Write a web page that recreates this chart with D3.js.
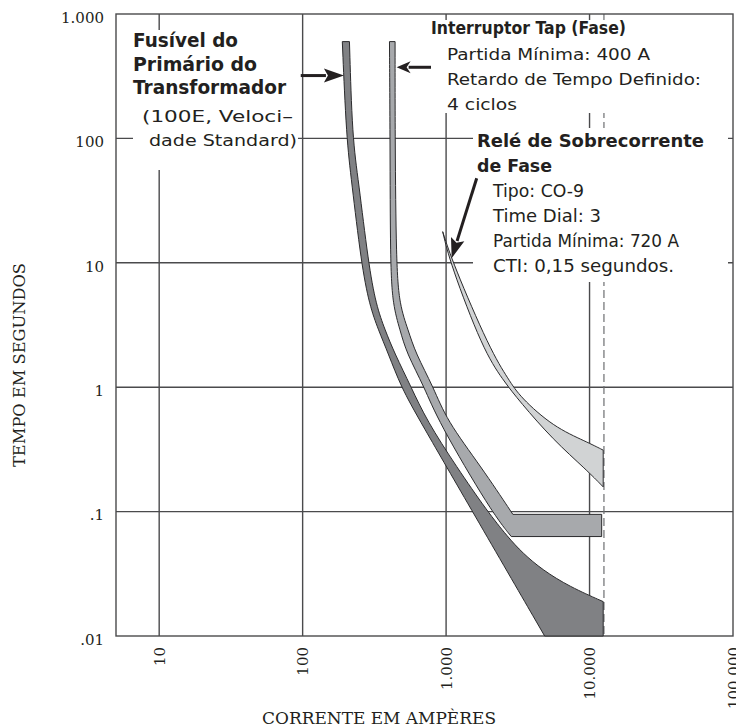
<!DOCTYPE html>
<html>
<head>
<meta charset="utf-8">
<script src="https://cdn.jsdelivr.net/npm/d3@7"></script>
<style>
  body { margin: 0; background: #fff; }
</style>
</head>
<body>
<script>
// axis ticks
var xTicks = [10, 100, 1000, 10000, 100000];
var xTickLabels = ["10", "100", "1.000", "10.000", "100.000"];
var yTicks = [0.01, 0.1, 1, 10, 100, 1000];
var yTickLabels = [".01", ".1", "1", "10", "100", "1.000"];

// curves, [corrente A, tempo s]
var fuseMinMelt = [[189, 600], [202, 100], [219, 46], [256, 10], [292, 4.57], [338, 2.87], [394, 1.88],
  [486, 1], [652, 0.544], [1529, 0.1], [4864, 0.01]];
var fuseTotalClear = [[212, 600], [222, 100], [245, 46], [287, 10], [325, 4.57], [376, 2.87], [437, 1.88],
  [571, 1], [730, 0.544], [1182, 0.229], [1945, 0.1], [2683, 0.0628], [3414, 0.0464], [4707, 0.0339],
  [7263, 0.0249], [12450, 0.0189]];
var fuseBottom = [[4864, 0.01], [12450, 0.01], [12450, 0.0189]];

var tapMin = [[403, 600], [407, 100], [408, 10], [425, 4.57], [478, 2.87], [530, 1.88], [707, 1],
  [871, 0.544], [2064, 0.1], [2847, 0.063]];
var tapMax = [[441, 600], [441, 100], [449, 10], [473, 4.57], [545, 2.87], [612, 1.88], [817, 1],
  [1006, 0.544], [1757, 0.229], [2921, 0.095]];
var tapDelay = [[2847, 0.063], [12150, 0.063], [12150, 0.095], [2921, 0.095]];

var relayFast = [[947, 17.8], [1065, 10], [1808, 2], [2493, 1.14], [3273, 0.763], [5588, 0.376],
  [9550, 0.216], [12450, 0.158]];
var relaySlow = [[947, 17.8], [1112, 10], [2023, 2], [2744, 1.14], [3273, 0.837], [5588, 0.48],
  [9550, 0.364], [12450, 0.312]];
var relayEnd = [[12450, 0.158], [12450, 0.312]];

var faultCurrent = 12600;

// arrows: tail -> tip
var arrows = [
  {from: [97, 320], to: [194, 320], len: 20, w: 7},
  {from: [785, 373], to: [452, 373], len: 14, w: 6},
  {from: [1634, 47.8], to: [1094, 10.9], len: 20, w: 7}
];

// texts
var fuseTitle = ["Fusível do", "Primário do", "Transformador"];
var fuseNote = ["(100E, Veloci–", "dade Standard)"];
var tapTitle = ["Interruptor Tap (Fase)"];
var tapNote = ["Partida Mínima: 400 A", "Retardo de Tempo Definido:", "4 ciclos"];
var relayTitle = ["Relé de Sobrecorrente", "de Fase"];
var relayNote = ["Tipo: CO-9", "Time Dial: 3", "Partida Mínima: 720 A", "CTI: 0,15 segundos."];

var width = 736, height = 728;

var svg = d3.select("body").append("svg")
  .attr("width", width)
  .attr("height", height);

var x = d3.scaleLog().domain([5, 100000]).range([116, 733]);
var y = d3.scaleLog().domain([0.01, 1000]).range([636, 14]);

var gridColor = "#4a4a4c";

// grid
var grid = svg.append("g");
grid.selectAll(".vgrid")
  .data(xTicks.slice(0, 4))
  .enter().append("line")
  .attr("x1", d => x(d)).attr("x2", d => x(d))
  .attr("y1", y(1000)).attr("y2", y(0.01))
  .style("stroke", gridColor).style("stroke-width", 1.4);
grid.selectAll(".hgrid")
  .data(yTicks.slice(1, 5))
  .enter().append("line")
  .attr("x1", x(5)).attr("x2", x(100000))
  .attr("y1", d => y(d)).attr("y2", d => y(d))
  .style("stroke", gridColor).style("stroke-width", 1.4);

grid.append("line") // corrente de falta
  .attr("x1", x(faultCurrent)).attr("x2", x(faultCurrent))
  .attr("y1", y(1000)).attr("y2", y(0.01))
  .style("stroke", "#6d6e71").style("stroke-width", 1.2)
  .style("stroke-dasharray", "8,4");

grid.append("rect")
  .attr("x", x(5)).attr("y", y(1000))
  .attr("width", x(100000) - x(5)).attr("height", y(0.01) - y(1000))
  .style("fill", "none").style("stroke", gridColor).style("stroke-width", 1.4);

// white boxes behind the notes (they break the grid)
var boxes = [[133, 30, 298, 170], [425, 20, 728, 113], [473, 128, 728, 282]];
svg.append("g").selectAll("rect")
  .data(boxes)
  .enter().append("rect")
  .attr("x", d => d[0]).attr("y", d => d[1])
  .attr("width", d => d[2] - d[0]).attr("height", d => d[3] - d[1])
  .style("fill", "#fff");

// axes
var yAxis = svg.append("g")
  .attr("transform", "translate(" + x(5) + ",0)")
  .call(d3.axisLeft(y).tickValues(yTicks).tickFormat((d, i) => yTickLabels[i]).tickSize(0).tickPadding(12));
yAxis.select(".domain").remove();
yAxis.selectAll("text")
  .attr("dy", "0.55em")
  .style("font-family", "'DejaVu Serif', serif")
  .style("font-size", "15px")
  .style("fill", "#231f20");

var xAxis = svg.append("g")
  .attr("transform", "translate(0," + y(0.01) + ")")
  .call(d3.axisBottom(x).tickValues(xTicks).tickFormat((d, i) => xTickLabels[i]).tickSize(0));
xAxis.select(".domain").remove();
xAxis.selectAll("text")
  .attr("transform", "rotate(-90)")
  .attr("x", -11).attr("y", 0).attr("dy", "0.35em")
  .style("text-anchor", "end")
  .style("font-family", "'DejaVu Serif', serif")
  .style("font-size", "15px")
  .style("fill", "#231f20");

svg.append("text")
  .attr("transform", "translate(25,365) rotate(-90)")
  .attr("text-anchor", "middle")
  .attr("textLength", 204).attr("lengthAdjust", "spacingAndGlyphs")
  .style("font-family", "'DejaVu Serif', serif").style("font-size", "16px").style("fill", "#231f20")
  .text("TEMPO EM SEGUNDOS");

svg.append("text")
  .attr("x", 379).attr("y", 724)
  .attr("text-anchor", "middle")
  .attr("textLength", 234).attr("lengthAdjust", "spacingAndGlyphs")
  .style("font-family", "'DejaVu Serif', serif").style("font-size", "16px").style("fill", "#231f20")
  .text("CORRENTE EM AMPÈRES");

// bands
var smooth = d3.line().x(d => x(d[0])).y(d => y(d[1])).curve(d3.curveBasis);
var straight = d3.line().x(d => x(d[0])).y(d => y(d[1]));

function band(parts){
  return parts.map((p, i) => i ? p.replace(/^M/, "L") : p).join("") + "Z";
}

var bands = [
  {d: band([smooth(fuseMinMelt), straight(fuseBottom), smooth(fuseTotalClear.slice().reverse())]), fill: "#808184"},
  {d: band([smooth(tapMin), straight(tapDelay), smooth(tapMax.slice().reverse())]), fill: "#a7a9ac"},
  {d: band([smooth(relayFast), straight(relayEnd), smooth(relaySlow.slice().reverse())]), fill: "#d1d3d4"}
];

svg.append("g").selectAll("path")
  .data(bands)
  .enter().append("path")
  .attr("d", d => d.d)
  .style("fill", d => d.fill)
  .style("stroke", "#2b2b2d")
  .style("stroke-width", 1)
  .style("stroke-linejoin", "round");

// arrows
var arrowG = svg.append("g");
arrows.forEach(function(a){
  var p0 = [x(a.from[0]), y(a.from[1])];
  var p1 = [x(a.to[0]), y(a.to[1])];
  var dx = p1[0] - p0[0], dy = p1[1] - p0[1];
  var n = Math.sqrt(dx * dx + dy * dy);
  var ux = dx / n, uy = dy / n;
  var bx = p1[0] - ux * a.len, by = p1[1] - uy * a.len;
  arrowG.append("line")
    .attr("x1", p0[0]).attr("y1", p0[1])
    .attr("x2", bx + ux * 2).attr("y2", by + uy * 2)
    .style("stroke", "#231f20").style("stroke-width", 3);
  arrowG.append("path")
    .attr("d", "M" + p1[0] + "," + p1[1] +
      "L" + (bx - uy * a.w) + "," + (by + ux * a.w) +
      "L" + (bx + ux * 4) + "," + (by + uy * 4) +
      "L" + (bx + uy * a.w) + "," + (by - ux * a.w) + "Z")
    .style("fill", "#231f20");
});

// notes: [x, baseline, length]
function block(lines, pos, size, weight){
  svg.append("g").selectAll("text")
    .data(lines)
    .enter().append("text")
    .attr("x", (d, i) => pos[i][0])
    .attr("y", (d, i) => pos[i][1])
    .attr("textLength", (d, i) => pos[i][2])
    .attr("lengthAdjust", "spacingAndGlyphs")
    .style("font-family", "'DejaVu Sans', sans-serif")
    .style("font-size", size + "px")
    .style("font-weight", weight)
    .style("fill", "#231f20")
    .text(d => d);
}

block(fuseTitle, [[133, 47, 105], [133, 71, 124], [133, 94, 153]], 20, "bold");
block(fuseNote, [[142, 122, 151], [149, 146, 148]], 16, "normal");
block(tapTitle, [[431, 34, 195]], 17, "bold");
block(tapNote, [[447, 60, 203], [447, 85, 254], [447, 110, 70]], 16, "normal");
block(relayTitle, [[477, 147, 227], [477, 172, 75]], 18, "bold");
block(relayNote, [[493, 197, 91], [493, 222, 108], [493, 247, 186], [493, 272, 181]], 17, "normal");
</script>
</body>
</html>
